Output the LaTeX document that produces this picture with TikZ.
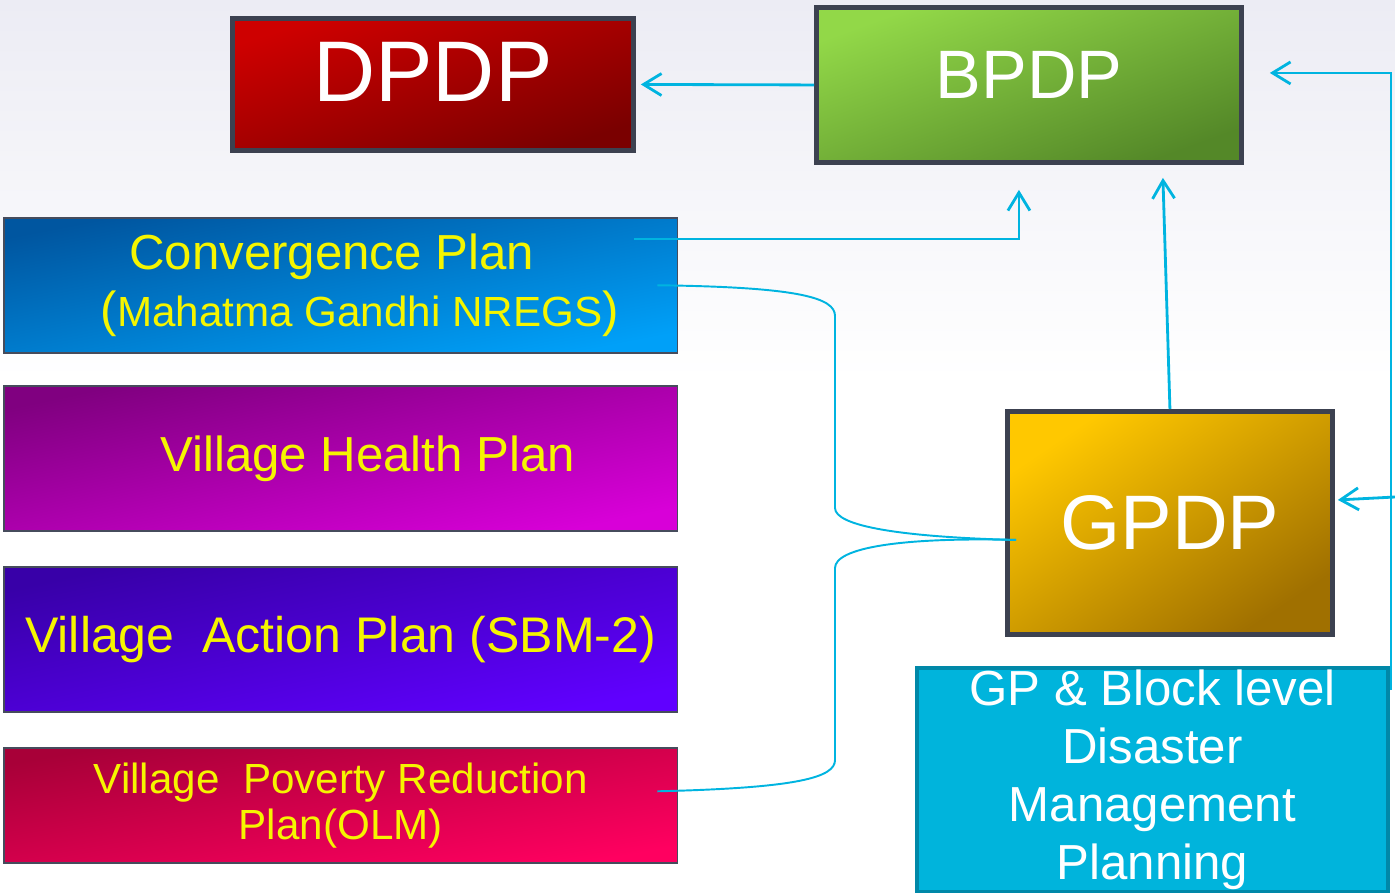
\documentclass[tikz,border=0pt]{standalone}
\usepackage{fontspec}
\setmainfont{Liberation Sans}
\usepackage{xcolor}
\usepackage{tikz}
\usetikzlibrary{arrows.meta,calc}

\definecolor{bgtop}{RGB}{236,236,244}
\definecolor{edgegrey}{RGB}{60,65,80}
\definecolor{thingrey}{RGB}{70,76,92}
\definecolor{linkcyan}{RGB}{0,180,224}
\definecolor{planyellow}{RGB}{245,245,0}
\definecolor{dpdpA}{RGB}{206,0,0}
\definecolor{dpdpB}{RGB}{122,0,0}
\definecolor{bpdpA}{RGB}{146,216,72}
\definecolor{bpdpB}{RGB}{84,136,40}
\definecolor{gpdpA}{RGB}{255,200,0}
\definecolor{gpdpB}{RGB}{160,112,0}
\definecolor{convA}{RGB}{0,86,160}
\definecolor{convB}{RGB}{0,160,248}
\definecolor{healthA}{RGB}{128,0,128}
\definecolor{healthB}{RGB}{216,0,216}
\definecolor{actionA}{RGB}{56,0,168}
\definecolor{actionB}{RGB}{96,0,255}
\definecolor{povA}{RGB}{168,0,56}
\definecolor{povB}{RGB}{255,0,96}
\definecolor{disfill}{RGB}{0,180,220}
\definecolor{disedge}{RGB}{0,136,168}

\begin{document}
\begin{tikzpicture}[x=0.02cm,y=-0.02cm,
	level/.style={draw=edgegrey, line width=2.8pt, anchor=north west, text=white, inner sep=0pt},
	plan/.style={draw=thingrey, line width=0.9pt, anchor=north west, minimum width=13.48cm, text=planyellow, align=center, inner sep=0pt},
	link/.style={draw=linkcyan, line width=1.6pt, -{Straight Barb[length=3.6mm,width=4.4mm]}},
	curl/.style={draw=linkcyan, line width=1.1pt}]
	\useasboundingbox (0,0) rectangle (1395,892);
	\shade[top color=bgtop, bottom color=white] (0,0) rectangle (1395,380);
	% upper levels
	\node[level, minimum width=8.02cm, minimum height=2.64cm, text depth=0.52cm, top color=dpdpA, bottom color=dpdpB, shading angle=18, font=\fontsize{49}{49}\selectfont] (dpdp) at (230,16) {DPDP};
	\node[level, minimum width=8.5cm, minimum height=3.1cm, text depth=0.42cm, top color=bpdpA, bottom color=bpdpB, shading angle=20, font=\fontsize{39}{39}\selectfont] (bpdp) at (814,5) {BPDP};
	\node[level, minimum width=6.5cm, minimum height=4.46cm, top color=gpdpA, bottom color=gpdpB, shading angle=34, font=\fontsize{44}{44}\selectfont] (gpdp) at (1005,409) {GPDP};
	% plans on the left
	\node[plan, minimum height=2.7cm, top color=convA, bottom color=convB, shading angle=11, font=\fontsize{28}{32}\selectfont] (conv) at (3,217)
		{Convergence Plan\hspace*{0.36cm}\\
		\hspace*{0.76cm}({\fontsize{24}{32}\selectfont Mahatma Gandhi NREGS})};
	\node[plan, minimum height=2.9cm, top color=healthA, bottom color=healthB, shading angle=12, font=\fontsize{28}{32}\selectfont] (health) at (3,385)
		{\hspace*{1.08cm}Village Health Plan};
	\node[plan, minimum height=2.9cm, top color=actionA, bottom color=actionB, shading angle=12, font=\fontsize{28.5}{32}\selectfont] (action) at (3,566)
		{Village\ \ Action Plan (SBM-2)};
	\node[plan, minimum height=2.3cm, top color=povA, bottom color=povB, shading angle=10, font=\fontsize{24}{26}\selectfont] (poverty) at (3,747)
		{Village\ \ Poverty Reduction\\Plan(OLM)};
	% disaster box
	\node[draw=disedge, line width=2.3pt, fill=disfill, anchor=north west, minimum width=9.42cm, minimum height=4.48cm, inner sep=0pt, text=white, align=center, font=\fontsize{28}{33}\selectfont] (disaster) at (915,666)
		{GP \& Block level\\Disaster\\Management\\Planning};
	\coordinate (rim) at (1395,497);
	% connectors
	\draw[link] (bpdp.west) -- ($(dpdp.east)+(5,0)$);
	\draw[link] ($(conv.north east)+(-44,22)$) -| ($(bpdp.south)+(-10,25)$);
	\draw[link] (gpdp.north) -- ($(bpdp.south)+(134,13)$);
	\draw[link] ($(disaster.north east)+(1,24)$) |- ($(bpdp.east)+(26,-12)$);
	\draw[link] (rim) -- ($(gpdp.east)+(3,-23)$);
	\draw[curl] ($(conv.east)+(-21,0)$) .. controls (800,287) and (835,298) .. (835,316) -- (835,508)
		.. controls (835,526) and (900,537) .. ($(gpdp.west)+(11,17)$);
	\draw[curl] ($(poverty.east)+(-21,-14)$) .. controls (800,788) and (835,777) .. (835,760) -- (835,568)
		.. controls (835,548) and (900,537) .. ($(gpdp.west)+(11,17)$);
\end{tikzpicture}
\end{document}
